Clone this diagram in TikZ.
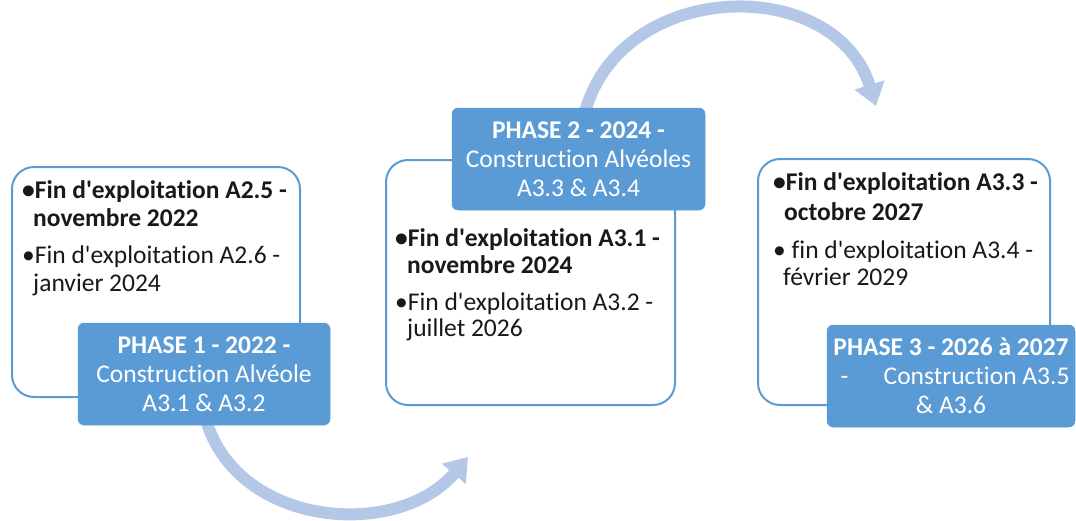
\documentclass[tikz,border=0pt]{standalone}
\usepackage{fontspec}
\setmainfont{Carlito}[Ligatures={TeXOff,NoCommon}]
\usetikzlibrary{arrows.meta}
\definecolor{pblue}{HTML}{5B9BD5}
\definecolor{lblue}{HTML}{B4C7E7}
\begin{document}
\begin{tikzpicture}[x=1pt,y=-1pt,
  wbox/.style={draw=pblue, line width=2pt, fill=white, rounded corners=22pt, inner sep=0pt},
  pbox/.style={fill=pblue, draw=pblue, line width=0.5pt, rounded corners=6pt, inner sep=0pt,
     minimum width=252pt, minimum height=102pt, text=white, align=center,
     font=\fontsize{25.5}{29}\selectfont},
  ln/.style={anchor=base west, inner sep=0pt, font=\fontsize{25.5}{28}\selectfont, text=black!90},
  lnb/.style={ln, font=\fontsize{25.5}{28}\selectfont\bfseries},
  flow/.style={draw=lblue, line width=12pt, -{Triangle[width=30pt,length=22pt]}}]
\path[use as bounding box] (0,0) rectangle (1076,520);

% arrows
\coordinate (a1s) at (206,420);
\coordinate (a1e) at (468,457);
\coordinate (a2s) at (585,112);
\coordinate (a2e) at (876,106);
\draw[flow] (a1s) .. controls (238,528) and (398,540) .. (a1e);
\draw[flow] (a2s) .. controls (622,-22) and (835,-26) .. (a2e);

% white boxes
\node[wbox, minimum width=288pt, minimum height=230pt] (b1) at (156,282) {};
\node[wbox, minimum width=289pt, minimum height=245pt] (b2) at (530.5,282.5) {};
\node[wbox, minimum width=292pt, minimum height=246pt] (b3) at (904,282) {};

% box 1 text
\node[lnb] (t11) at (22,198) {•Fin d'exploitation A2.5 -};
\node[lnb] (t12) at (33,226) {novembre 2022};
\node[ln] (t13) at (22,263) {•Fin d'exploitation A2.6 -};
\node[ln] (t14) at (33,291) {janvier 2024};

% box 2 text
\node[lnb] (t21) at (395,246) {•Fin d'exploitation A3.1 -};
\node[lnb] (t22) at (407,273) {novembre 2024};
\node[ln] (t23) at (395,310) {•Fin d'exploitation A3.2 -};
\node[ln] (t24) at (407,336) {juillet 2026};

% box 3 text
\node[lnb] (t31) at (773,190) {•Fin d'exploitation A3.3 -};
\node[lnb] (t32) at (784,220) {octobre 2027};
\node[ln] (t33) at (773,258) {• fin d'exploitation A3.4 -};
\node[ln] (t34) at (783,285) {février 2029};

% phase boxes
\node[pbox] (p1) at (204,374) {\textbf{PHASE 1 - 2022 -}\\Construction Alvéole\\A3.1 \& A3.2};
\node[pbox, minimum width=253pt] (p2) at (578.5,159) {\textbf{PHASE 2 - 2024 -}\\Construction Alvéoles\\A3.3 \& A3.4};
\node[pbox, minimum width=248pt] (p3) at (951,376) {\textbf{PHASE 3 - 2026 à 2027}\\\makebox[237pt]{\hspace{8pt}-\hfill Construction A3.5}\\\& A3.6};
\end{tikzpicture}
\end{document}
